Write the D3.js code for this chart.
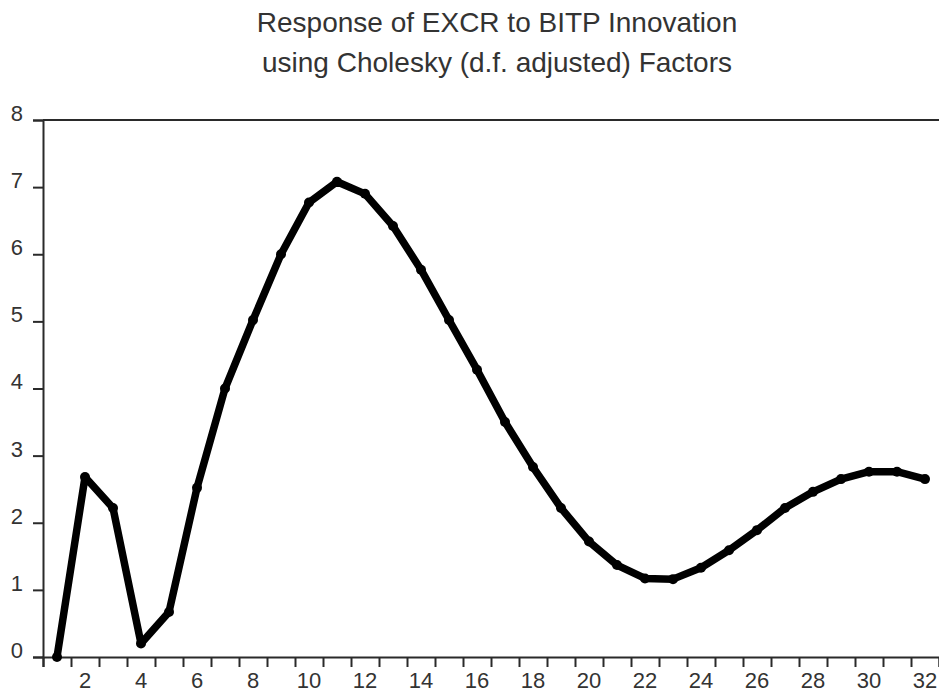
<!DOCTYPE html>
<html>
<head>
<meta charset="utf-8">
<script src="https://cdn.jsdelivr.net/npm/d3@7"></script>
<style>
  body { margin: 0; background: #fff; }
  text { font-family: "Liberation Sans", Arial, sans-serif; fill: #333; }
</style>
</head>
<body>
<div id="chart"></div>
<script>
// impulse response, periods 1..32
var periods = d3.range(1, 33);
var response = [0.00, 2.68, 2.22, 0.20, 0.67, 2.52, 4.00, 5.02, 6.00, 6.77,
                7.08, 6.90, 6.42, 5.77, 5.02, 4.28, 3.50, 2.83, 2.22, 1.72,
                1.37, 1.17, 1.16, 1.33, 1.59, 1.89, 2.22, 2.46, 2.65, 2.76,
                2.76, 2.65];
var yTicks = [0, 1, 2, 3, 4, 5, 6, 7, 8];
var xLabels = d3.range(2, 33, 2);
var titleLines = ["Response of EXCR to BITP Innovation",
                  "using Cholesky (d.f. adjusted) Factors"];

var width = 939, height = 694;
var plotLeft = 43, plotRight = 939, plotTop = 120, plotBottom = 657;

var svg = d3.select("#chart")
    .append("svg")
    .attr("width", width)
    .attr("height", height);

var x = d3.scaleLinear().domain([0.5, 32.5]).range([plotLeft, plotRight]);
var y = d3.scaleLinear().domain([0, 8]).range([plotBottom, plotTop]);

// title
svg.selectAll("text.title")
    .data(titleLines)
    .enter()
    .append("text")
    .attr("class", "title")
    .attr("x", 497)
    .attr("y", function (d, i) { return 32 + i * 40; })
    .attr("text-anchor", "middle")
    .attr("font-size", "28px")
    .text(function (d) { return d; });

// y axis
var yAxis = svg.append("g")
    .attr("transform", "translate(" + plotLeft + ",0)")
    .call(d3.axisLeft(y).tickValues(yTicks).tickSize(10).tickPadding(10));
yAxis.select(".domain").attr("stroke", "#2a2a2a").attr("stroke-width", 2);
yAxis.selectAll(".tick line").attr("stroke", "#2a2a2a").attr("stroke-width", 2);
yAxis.selectAll(".tick text")
    .attr("font-size", "22px")
    .attr("dy", "0.02em")
    .style("font-family", "Liberation Sans, Arial, sans-serif")
    .attr("fill", "#333");

// x axis: ticks between periods, labels on even periods
var xAxis = svg.append("g")
    .attr("transform", "translate(0," + plotBottom + ")")
    .call(d3.axisBottom(x).tickValues(d3.range(0.5, 33, 1)).tickSize(10).tickFormat(""));
xAxis.select(".domain").attr("stroke", "#2a2a2a").attr("stroke-width", 2);
xAxis.selectAll(".tick line").attr("stroke", "#2a2a2a").attr("stroke-width", 2);

svg.selectAll("text.xlab")
    .data(xLabels)
    .enter()
    .append("text")
    .attr("class", "xlab")
    .attr("x", function (d) { return x(d); })
    .attr("y", 688)
    .attr("text-anchor", "middle")
    .attr("font-size", "22px")
    .text(function (d) { return d; });

// top frame
svg.append("line")
    .attr("x1", plotLeft).attr("x2", plotRight)
    .attr("y1", plotTop).attr("y2", plotTop)
    .attr("stroke", "#2a2a2a")
    .attr("stroke-width", 2);

// response line
var line = d3.line()
    .x(function (d, i) { return x(periods[i]); })
    .y(function (d) { return y(d); });

svg.append("path")
    .datum(response)
    .attr("fill", "none")
    .attr("stroke", "#000")
    .attr("stroke-width", 7.5)
    .attr("stroke-linejoin", "round")
    .attr("d", line);

svg.selectAll("circle.pt")
    .data(response)
    .enter()
    .append("circle")
    .attr("class", "pt")
    .attr("cx", function (d, i) { return x(periods[i]); })
    .attr("cy", function (d) { return y(d); })
    .attr("r", 5)
    .attr("fill", "#000");
</script>
</body>
</html>
